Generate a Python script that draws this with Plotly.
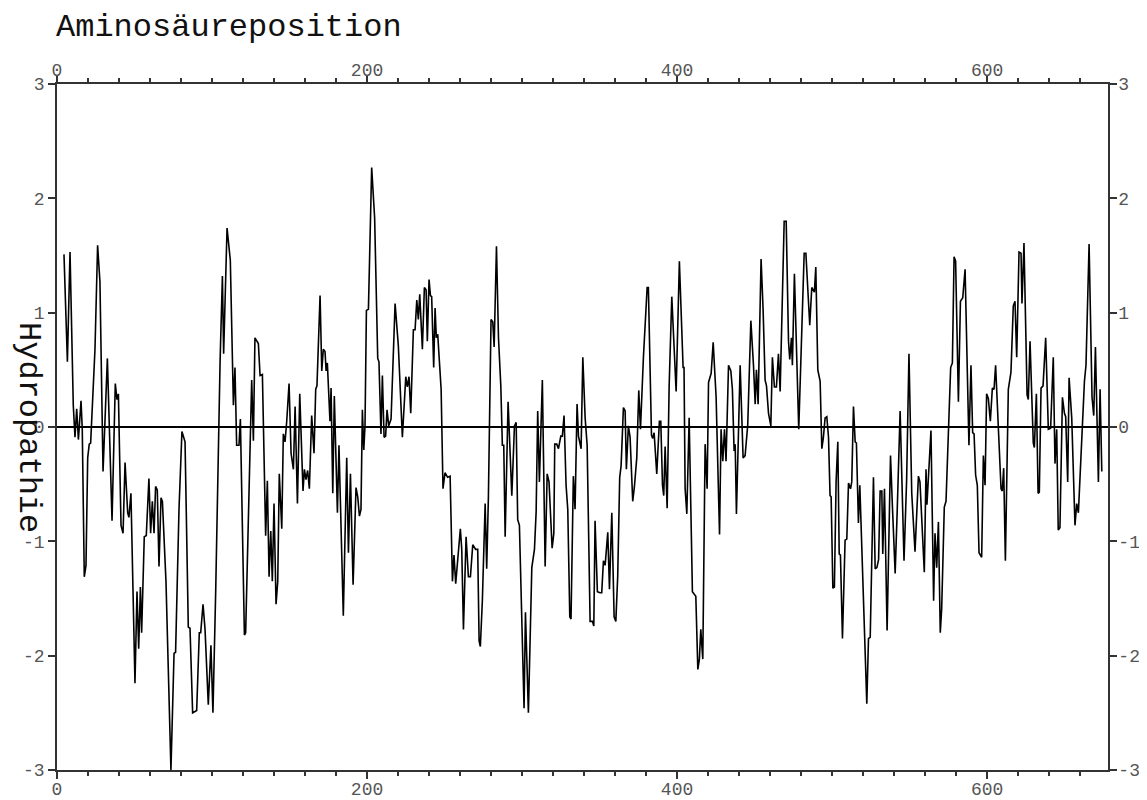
import plotly.graph_objects as go

# Hydropathie-Profil: Stützpunkte (Position, Wert)
pos = [4.5, 6.7, 8.4, 10.5, 11.6, 12.7, 13.8, 15.5, 16.3, 17.6, 18.7, 19.8, 20.8, 21.7, 24.5, 26.2, 27.7, 29.7,
       32.5, 35.5, 37.6, 38.7, 39.6, 41.3, 42.6, 43.9, 45.6, 46.4, 47.7, 50.3, 51.6, 52.7, 53.8, 54.6, 56.3,
       57.6, 59.3, 60.4, 61.5, 62.6, 63.6, 64.7, 65.8, 67.1, 68.0, 70.3, 71.8, 73.5, 75.5, 76.5, 78.7, 80.6,
       82.6, 84.7, 85.8, 87.5, 90.1, 91.8, 92.7, 94.2, 95.5, 97.6, 99.3, 100.6, 102.4, 104.1, 105.2, 106.7,
       107.5, 109.7, 111.8, 113.8, 114.8, 115.9, 117.4, 118.3, 120.9, 121.7, 123.4, 125.6, 126.7, 127.7,
       129.9, 131.0, 132.5, 134.6, 135.7, 136.8, 137.9, 138.9, 140.0, 141.3, 142.4, 143.4, 145.0, 146.0,
       147.1, 148.2, 149.7, 151.0, 152.5, 153.6, 155.1, 156.6, 158.7, 159.6, 160.6, 161.7, 162.8, 164.3,
       165.8, 166.9, 167.7, 169.7, 170.8, 171.8, 172.9, 173.6, 174.4, 176.1, 176.8, 177.9, 178.9, 180.9,
       181.9, 184.7, 186.9, 188.0, 189.3, 191.0, 192.9, 194.0, 195.1, 196.1, 197.0, 197.9, 198.7, 199.6,
       200.9, 203.0, 204.9, 206.9, 207.7, 209.0, 209.9, 211.0, 212.0, 212.9, 214.0, 215.5, 218.1, 220.2,
       222.8, 225.0, 226.0, 227.1, 228.2, 229.9, 231.0, 232.1, 233.1, 234.0, 235.7, 237.0, 238.1, 238.9,
       240.0, 240.9, 241.7, 243.0, 243.9, 244.7, 245.6, 247.8, 249.0, 250.3, 252.0, 253.6, 255.1, 256.1,
       257.2, 258.5, 259.4, 260.2, 261.1, 262.2, 263.9, 265.4, 266.7, 268.2, 270.1, 271.4, 272.3, 273.1,
       274.4, 276.2, 277.2, 278.3, 280.0, 281.1, 282.0, 283.5, 284.8, 286.3, 287.3, 288.2, 289.1, 291.0,
       293.4, 295.1, 296.2, 297.2, 298.3, 299.8, 301.3, 302.2, 304.1, 306.3, 308.0, 309.1, 310.1, 311.2,
       313.1, 314.9, 316.2, 317.4, 319.4, 320.5, 321.1, 322.4, 323.5, 325.0, 326.0, 327.1, 328.4, 329.5,
       330.8, 331.6, 333.1, 334.2, 335.5, 336.4, 338.1, 339.2, 340.7, 342.0, 343.9, 345.4, 346.3, 347.1,
       348.6, 350.3, 351.4, 352.5, 353.6, 355.3, 356.4, 357.9, 359.4, 360.5, 361.7, 363.0, 363.9, 365.4,
       366.5, 367.3, 368.6, 369.7, 371.4, 372.5, 374.0, 375.3, 376.4, 378.3, 380.7, 381.5, 383.5, 384.3,
       385.2, 386.9, 388.6, 389.5, 390.6, 391.4, 392.3, 393.6, 394.9, 396.6, 398.1, 399.4, 401.5, 403.9,
       404.5, 405.2, 406.3, 407.8, 409.9, 412.1, 413.4, 414.4, 415.3, 416.6, 418.1, 419.4, 420.3, 422.0,
       423.3, 425.2, 427.4, 428.4, 429.5, 430.6, 431.6, 433.2, 434.7, 435.7, 436.8, 437.5, 438.3, 440.7,
       442.6, 443.9, 445.6, 447.6, 449.3, 450.4, 451.2, 452.3, 454.2, 455.5, 456.8, 457.7, 459.0, 460.5,
       461.5, 462.8, 464.1, 465.4, 466.5, 469.1, 470.4, 471.9, 472.7, 473.8, 474.4, 475.7, 478.5, 482.0,
       483.1, 485.6, 486.9, 488.0, 488.6, 489.5, 490.8, 492.3, 493.4, 494.4, 495.5, 496.6, 497.7, 498.7,
       499.4, 500.5, 501.5, 502.6, 503.7, 504.6, 505.4, 506.7, 508.4, 509.5, 510.6, 511.9, 512.7, 513.8,
       514.9, 515.7, 517.0, 517.9, 520.3, 522.4, 523.5, 524.6, 526.7, 527.8, 528.9, 530.0, 531.0, 532.1,
       532.7, 533.8, 535.5, 537.7, 539.0, 540.7, 542.0, 543.9, 546.4, 548.1, 549.6, 551.4, 553.5, 555.7,
       556.7, 559.5, 560.6, 561.2, 563.8, 565.5, 566.4, 567.5, 568.6, 569.8, 570.7, 572.4, 573.5, 575.0,
       576.5, 577.6, 578.7, 579.7, 581.5, 582.8, 584.3, 585.8, 588.3, 589.6, 590.7, 591.6, 592.6, 593.7,
       594.8, 596.5, 597.6, 598.7, 599.7, 600.8, 602.1, 603.4, 604.5, 605.5, 607.1, 609.0, 609.8, 610.7,
       611.8, 613.7, 615.4, 616.9, 618.0, 619.1, 620.6, 621.9, 622.5, 623.8, 625.8, 626.6, 627.7, 629.8,
       630.5, 631.8, 632.9, 633.7, 634.8, 636.1, 637.8, 639.5, 641.0, 642.7, 643.8, 644.9, 645.9, 647.0,
       648.6, 649.9, 650.7, 652.0, 652.9, 654.6, 656.7, 657.8, 658.9, 661.0, 662.8, 663.8, 665.8, 667.7,
       668.8, 669.9, 670.9, 671.8, 672.9, 674.0]

hyd = [1.51, 0.57, 1.53, 0.19, -0.09, 0.16, -0.11, 0.23, -0.02, -1.31, -1.21, -0.27, -0.15, -0.14, 0.68, 1.59,
       1.27, -0.39, 0.60, -0.82, 0.38, 0.24, 0.29, -0.86, -0.93, -0.31, -0.75, -0.79, -0.58, -2.24, -1.44,
       -1.94, -1.40, -1.80, -0.96, -0.95, -0.45, -0.93, -0.65, -0.93, -0.52, -0.55, -1.22, -0.62, -0.65,
       -1.35, -2.12, -3.00, -1.98, -1.97, -0.72, -0.04, -0.13, -1.75, -1.76, -2.50, -2.48, -1.80, -1.80,
       -1.55, -1.77, -2.43, -1.91, -2.50, -1.42, -0.02, 0.57, 1.32, 0.64, 1.74, 1.46, 0.19, 0.52, -0.16,
       -0.16, 0.07, -1.82, -1.80, -0.72, 0.41, -0.12, 0.78, 0.73, 0.45, 0.46, -0.95, -0.47, -1.31, -0.91,
       -1.35, -0.67, -1.55, -1.35, -0.41, -0.89, -0.06, -0.13, 0.05, 0.38, -0.23, -0.37, 0.18, -0.67, 0.29,
       -0.56, -0.37, -0.46, -0.38, -0.54, 0.10, -0.23, 0.33, 0.36, 1.15, 0.49, 0.68, 0.66, 0.49, 0.56,
       0.05, 0.34, -0.58, 0.27, -0.75, -0.16, -1.65, -0.27, -1.10, -0.41, -1.38, -0.53, -0.61, -0.78,
       -0.72, 0.15, -0.20, 0.01, 1.02, 1.03, 2.27, 1.83, 0.60, 0.57, -0.06, 0.45, -0.09, -0.08, 0.15, 0.01,
       0.07, 1.08, 0.71, -0.09, 0.44, 0.35, 0.44, 0.12, 0.85, 0.85, 1.11, 0.94, 1.16, 0.68, 1.22, 1.20,
       0.75, 1.29, 1.15, 1.14, 0.52, 1.04, 0.78, 0.81, 0.33, -0.54, -0.40, -0.44, -0.43, -1.35, -1.12,
       -1.37, -1.14, -0.98, -0.89, -1.07, -1.77, -0.96, -1.31, -1.31, -1.03, -1.07, -1.07, -1.87, -1.92,
       -1.52, -0.67, -1.24, -0.61, 0.94, 0.92, 0.70, 1.58, 0.78, 0.36, -0.16, -0.16, -0.96, 0.22, -0.60,
       0.01, 0.04, -0.81, -0.86, -1.80, -2.46, -1.62, -2.50, -1.23, -1.07, -0.74, 0.14, -0.48, 0.41, -1.22,
       -0.41, -0.48, -1.06, -0.93, -0.15, -0.15, -0.19, -0.08, -0.08, 0.10, -0.51, -0.72, -1.66, -1.68,
       -0.43, -0.72, 0.20, -0.08, -0.19, 0.61, 0.08, -0.16, -1.70, -1.70, -1.74, -0.82, -1.44, -1.45,
       -1.45, -1.17, -1.21, -0.92, -1.42, -0.75, -1.66, -1.70, -1.31, -0.44, -0.34, 0.17, 0.14, -0.37,
       0.01, -0.09, -0.65, -0.52, -0.27, 0.32, -0.02, 0.61, 1.22, 1.22, -0.07, -0.10, -0.05, -0.41, 0.05,
       0.05, -0.51, -0.60, -0.17, -0.71, 0.36, 1.14, 0.75, 0.31, 1.45, 0.52, 0.52, -0.54, -0.76, 0.08,
       -1.44, -1.48, -2.12, -2.03, -1.77, -2.03, -0.15, -0.54, 0.39, 0.47, 0.74, 0.26, -0.94, -0.02, -0.30,
       -0.02, -0.30, 0.54, 0.49, 0.33, -0.21, -0.15, -0.76, 0.54, -0.27, -0.25, 0.02, 0.93, 0.54, 0.20,
       0.50, 0.20, 1.47, 1.03, 0.41, 0.36, 0.12, 0.01, 0.61, 0.35, 0.35, 0.64, 0.31, 1.80, 1.80, 0.75,
       0.59, 0.78, 0.54, 1.34, -0.02, 1.52, 1.52, 0.89, 1.22, 1.20, 1.18, 1.40, 0.50, 0.40, -0.19, -0.09,
       0.08, 0.09, -0.09, -0.60, -0.61, -1.41, -1.40, -0.48, -0.13, -1.11, -1.12, -1.85, -0.99, -0.98,
       -0.49, -0.54, -0.48, 0.18, -0.13, -0.14, -0.84, -0.51, -1.47, -2.42, -1.85, -1.84, -0.44, -1.24,
       -1.23, -1.16, -0.56, -0.56, -1.11, -0.54, -1.78, -0.25, -0.72, -1.28, -0.74, 0.14, -1.17, -0.46,
       0.64, -0.58, -1.09, -0.43, -0.48, -1.27, -0.37, -0.68, -0.03, -1.52, -0.93, -1.23, -0.83, -1.80,
       -1.59, -0.70, -0.65, 0.01, 0.52, 0.56, 1.49, 1.45, 0.22, 1.10, 1.13, 1.38, -0.16, 0.54, -0.05,
       -0.06, -0.42, -0.51, -1.10, -1.14, -0.25, -0.51, 0.29, 0.25, 0.05, 0.34, 0.33, 0.54, -0.01, -0.54,
       -0.56, -0.36, -1.17, 0.33, 0.48, 1.06, 1.10, 0.61, 1.53, 1.52, 1.08, 1.61, 0.28, 0.24, 0.75, -0.14,
       -0.18, 0.29, -0.58, -0.57, 0.34, 0.36, 0.78, -0.02, -0.01, 0.61, -0.32, -0.02, -0.90, -0.88, 0.26,
       0.12, 0.09, -0.48, 0.43, 0.08, -0.86, -0.67, -0.75, -0.17, 0.40, 0.54, 1.60, 0.26, 0.10, 0.70,
       0.15, -0.48, 0.33, -0.39]

x_ticks = [0, 200, 400, 600]
y_ticks = [-3, -2, -1, 0, 1, 2, 3]
y_ticktext = ["-3", "-2", "-1", "0", "1", "2", "3"]

mono = "Courier New, Liberation Mono, monospace"
tick_font = dict(family=mono, size=18, color="#555")

fig = go.Figure()

fig.add_trace(go.Scatter(
    x=pos, y=hyd, mode="lines",
    line=dict(color="black", width=1.6),
    showlegend=False, hoverinfo="x+y"
))

# unsichtbare Kopie für die obere/rechte Achse
fig.add_trace(go.Scatter(
    x=pos, y=hyd, mode="lines", xaxis="x2", yaxis="y2",
    line=dict(color="rgba(0,0,0,0)", width=0),
    showlegend=False, hoverinfo="skip"
))

axis_common = dict(
    showgrid=False, showline=True, linecolor="#333", linewidth=1.5,
    ticks="outside", ticklen=7, tickwidth=1.5, tickcolor="#333",
    tickfont=tick_font, automargin=False,
)
minor_x = dict(dtick=20, tick0=0, ticks="outside", ticklen=4, tickcolor="#333", tickwidth=1.5)

# Seite hat 8px Rand -> Figur etwas kleiner, damit alles ins Fenster passt
fig.update_layout(
    width=1139, height=792,
    margin=dict(l=49, r=39, t=76, b=30),
    paper_bgcolor="white", plot_bgcolor="white",
    xaxis=dict(range=[0, 678], tickvals=x_ticks, side="bottom", minor=minor_x,
               zeroline=False, ticklabelstandoff=-5, **axis_common),
    xaxis2=dict(range=[0, 678], tickvals=x_ticks, side="top", overlaying="x", anchor="y",
                minor=minor_x, zeroline=False, ticklabelstandoff=-8, **axis_common),
    yaxis=dict(range=[-3, 3], tickvals=y_ticks, ticktext=y_ticktext, side="left",
               zeroline=True, zerolinecolor="black", zerolinewidth=1.5, **axis_common),
    yaxis2=dict(range=[-3, 3], tickvals=y_ticks, ticktext=y_ticktext, side="right",
                overlaying="y", anchor="x", zeroline=False, ticklabelstandoff=-2, **axis_common),
)

fig.add_annotation(
    text="Aminosäureposition", xref="paper", yref="paper",
    x=-0.003, y=1 + 56 / 686, xanchor="left", yanchor="middle",
    showarrow=False, font=dict(family=mono, size=32, color="#111")
)
fig.add_annotation(
    text="Hydropathie", xref="paper", yref="paper",
    x=-28 / 1051, y=0.5, xanchor="center", yanchor="middle", textangle=90,
    showarrow=False, font=dict(family=mono, size=32, color="#111")
)

fig.write_html("out.html")
